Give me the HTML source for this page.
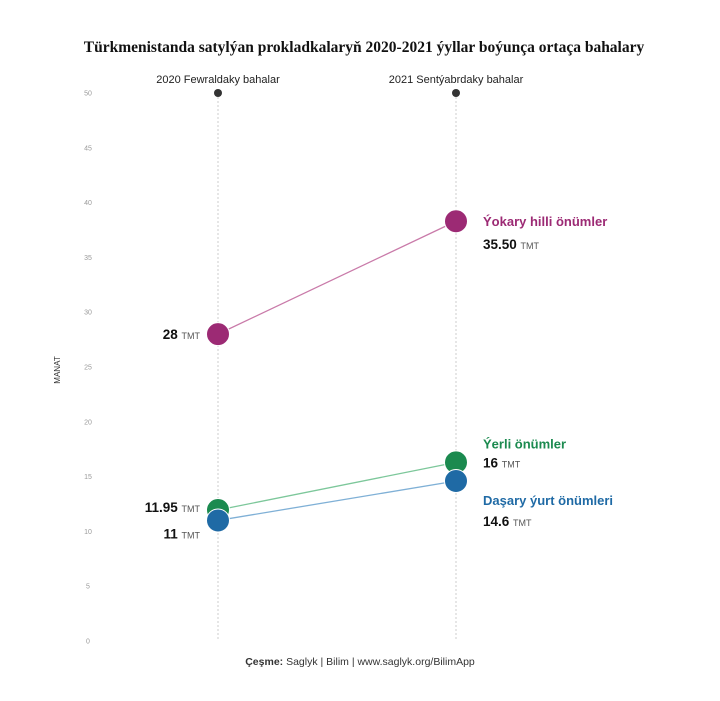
<!DOCTYPE html>
<html><head><meta charset="utf-8"><style>
body{margin:0;background:#fff;}
svg{display:block;font-family:"Liberation Sans",sans-serif;}
</style></head><body>
<svg id="c" width="720" height="701">
<text x="364" y="52" text-anchor="middle" font-family="Liberation Serif" font-weight="bold" font-size="15.5" fill="#111">Türkmenistanda satylýan prokladkalaryň 2020-2021 ýyllar boýunça ortaça bahalary</text>
<text x="60" y="370" transform="rotate(-90 60 370)" text-anchor="middle" font-size="8" fill="#333">MANAT</text>
<text x="360" y="665" text-anchor="middle" font-size="10.5" fill="#333"><tspan font-weight="bold">Çeşme:</tspan> Saglyk | Bilim | www.saglyk.org/BilimApp</text>
</svg>
<script>
const periods=["2020 Fewraldaky bahalar","2021 Sentýabrdaky bahalar"];
const seriesNames=["Ýokary hilli önümler","Ýerli  önümler","Daşary ýurt önümleri"];
const valuesYokary=[28,38.3];
const valuesYerli=[11.95,16.3];
const valuesDasary=[11,14.6];
const printedStart=["28","11.95","11"];
const printedEnd=["35.50","16","14.6"];
const yTicks=[0,5,10,15,20,25,30,35,40,45,50];
const colors=["#9c2a74","#1b8a4f","#1f6aa5"];
const lineColors=["#c97aa9","#7cc79a","#7fb0d6"];
const ns="http://www.w3.org/2000/svg";
const svg=document.getElementById('c');
const y=v=>641-v*10.96;
const x=i=>[218,456][i];
function el(t,a,p){const e=document.createElementNS(ns,t);for(const k in a)e.setAttribute(k,a[k]);(p||svg).appendChild(e);return e;}
yTicks.forEach(t=>{const e=el('text',{x:88,y:y(t)+2.5,'text-anchor':'middle','font-size':7,fill:'#999'});e.textContent=t;

});
periods.forEach((p,i)=>{
const l=el('line',{x1:x(i),x2:x(i),y1:y(50),y2:y(0),stroke:'#ccc','stroke-dasharray':'2,2'});


const d=el('circle',{cx:x(i),cy:y(50),r:4,fill:'#333'});


const t=el('text',{x:x(i),y:83,'text-anchor':'middle','font-size':11,fill:'#222'});t.textContent=p;


});
const all=[valuesYokary,valuesYerli,valuesDasary];
all.forEach((vals,s)=>{
const ln=el('line',{x1:x(0),y1:y(vals[0]),x2:x(1),y2:y(vals[1]),stroke:lineColors[s],'stroke-width':1.3});


});
[1,2,0].forEach(s=>{const vals=all[s];[0,1].forEach(i=>{
const c=el('circle',{cx:x(i),cy:y(vals[i]),r:11.5,fill:colors[s],stroke:'#fff','stroke-width':1});

});});
// start labels
const startDy=[5,2,18];
all.forEach((vals,s)=>{
const t=el('text',{x:200,y:y(vals[0])+startDy[s],'text-anchor':'end','font-size':13.5,'font-weight':'bold',fill:'#111'});
t.innerHTML=printedStart[s]+' <tspan font-size="9" font-weight="normal" fill="#555">TMT</tspan>';


});
// end labels
const nameDy=[5,-14,24],valDy=[28,5,45];
all.forEach((vals,s)=>{
const n=el('text',{x:483,y:y(vals[1])+nameDy[s],'font-size':13,'font-weight':'bold',fill:colors[s]});n.textContent=seriesNames[s];


const t=el('text',{x:483,y:y(vals[1])+valDy[s],'font-size':13.5,'font-weight':'bold',fill:'#111'});
t.innerHTML=printedEnd[s]+' <tspan font-size="9" font-weight="normal" fill="#555">TMT</tspan>';


});
</script>
</body></html>
